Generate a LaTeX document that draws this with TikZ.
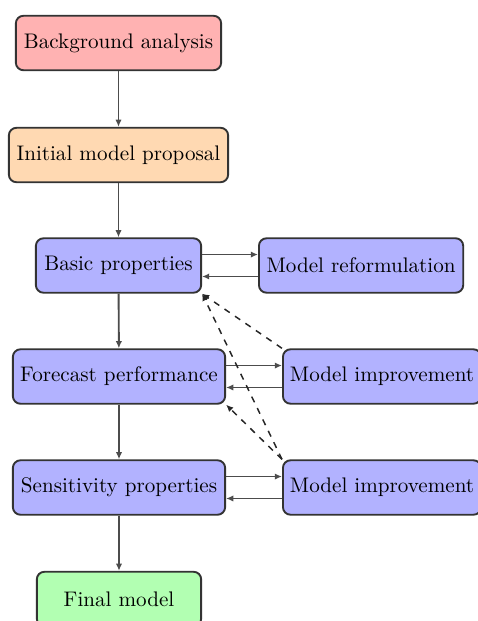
\documentclass[tikz,border=0pt]{standalone}
\usetikzlibrary{arrows.meta}
\begin{document}
\begin{tikzpicture}[
  x=0.4739pt, y=-0.4739pt,
  box/.style={rectangle, rounded corners=3.6pt, draw=black!80, line width=0.9pt,
    minimum height=25.8pt, inner sep=3.33pt, align=center, font=\normalsize},
  startbox/.style={box, fill=red!30},
  proposalbox/.style={box, fill=orange!30},
  processbox/.style={box, fill=blue!30},
  endbox/.style={box, fill=green!30},
  flow/.style={draw=black!70, line width=0.9pt, -{Latex[length=3.4pt,width=3pt]}},
  feedback/.style={draw=black!85, line width=0.7pt, dashed, -{Latex[length=3.4pt,width=3pt]}}
]
\useasboundingbox (0,0) rectangle (478,621);
\clip (0,0) rectangle (478,621);

% main column
\node[startbox, minimum width=97.3pt] (bg) at (118.5,43) {Background analysis};
\node[proposalbox, minimum width=103.9pt] (init) at (118.5,155) {Initial model proposal};
\node[processbox, minimum width=78.3pt] (basic) at (118.5,265.5) {Basic properties};
\node[processbox, minimum width=100.6pt] (fore) at (119,376.5) {Forecast performance};
\node[processbox, minimum width=100.6pt] (sens) at (119,487.5) {Sensitivity properties};
\node[endbox, minimum width=77.9pt] (final) at (119,599) {Final model};

% side column
\node[processbox, anchor=west, minimum width=96.8pt] (reform) at (258,265.5) {Model reformulation};
\node[processbox, anchor=west] (impA) at (282,376.5) {Model improvement};
\node[processbox, anchor=west] (impB) at (282,487.5) {Model improvement};

% main flow
\draw[flow] (bg) -- (init);
\draw[flow] (init) -- (basic);
\draw[flow] (basic) -- (fore);
\draw[flow] (fore) -- (sens);
\draw[flow] (sens) -- (final);

% loops to the side column
\draw[flow] ([yshift=5.2pt]basic.east) -- ([yshift=5.2pt]reform.west);
\draw[flow] ([yshift=-5.2pt]reform.west) -- ([yshift=-5.2pt]basic.east);
\draw[flow] ([yshift=5.2pt]fore.east) -- ([yshift=5.2pt]impA.west);
\draw[flow] ([yshift=-5.2pt]impA.west) -- ([yshift=-5.2pt]fore.east);
\draw[flow] ([yshift=5.2pt]sens.east) -- ([yshift=5.2pt]impB.west);
\draw[flow] ([yshift=-5.2pt]impB.west) -- ([yshift=-5.2pt]sens.east);

% feedback after improvements
\draw[feedback] (impA.north west) -- (basic.south east);
\draw[feedback] (impB.north west) -- (basic.south east);
\draw[feedback] (impB.north west) -- (fore.south east);
\end{tikzpicture}
\end{document}
